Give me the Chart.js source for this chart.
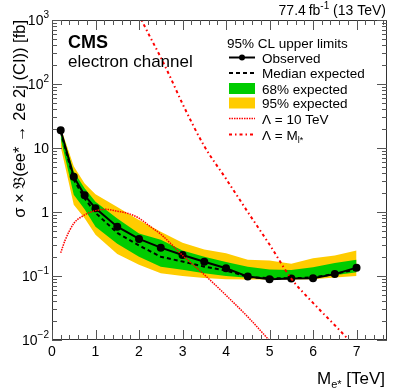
<!DOCTYPE html>
<html>
<head>
<meta charset="utf-8">
<script src="https://cdn.jsdelivr.net/npm/chart.js@4.4.0/dist/chart.umd.min.js"></script>
<style>
  html, body { margin: 0; padding: 0; background: #fff; }
</style>
</head>
<body>
<canvas id="chart" width="407" height="391"></canvas>
<script>
// excited electron mass points [TeV]
const massPoints = [0.2, 0.5, 0.75, 1, 1.5, 2, 2.5, 3, 3.5, 4, 4.5, 5, 5.5, 6, 6.5, 7];
const observed  = [19, 3.56, 1.82, 1.14, 0.59, 0.38, 0.277, 0.213, 0.167, 0.132, 0.098, 0.089, 0.091, 0.092, 0.107, 0.135];
const expMedian = [18, 3.2, 1.63, 0.97, 0.47, 0.30, 0.20, 0.168, 0.14, 0.122, 0.097, 0.092, 0.092, 0.095, 0.108, 0.127];
const exp68Hi   = [20, 4.3, 2.36, 1.45, 0.79, 0.46, 0.37, 0.25, 0.2, 0.165, 0.14, 0.126, 0.124, 0.137, 0.16, 0.18];
const exp68Lo   = [14, 1.86, 1.1, 0.59, 0.32, 0.2, 0.14, 0.125, 0.11, 0.1, 0.094, 0.093, 0.092, 0.094, 0.103, 0.114];
const exp95Hi   = [21, 5.2, 2.8, 1.9, 1.2, 0.75, 0.49, 0.33, 0.26, 0.226, 0.18, 0.175, 0.155, 0.19, 0.21, 0.25];
const exp95Lo   = [10.5, 1.3, 0.8, 0.44, 0.22, 0.15, 0.11, 0.1, 0.093, 0.089, 0.088, 0.088, 0.088, 0.089, 0.095, 0.1];

// signal theory curves
const lam10Mass = [0.2, 0.3, 0.5, 0.75, 1, 1.25, 1.5, 1.75, 2, 2.25, 2.5, 2.75, 3, 3.5, 4, 4.5, 5];
const lam10Xsec = [0.23, 0.36, 0.66, 0.9, 1.05, 1.1, 1.03, 0.95, 0.8, 0.6, 0.45, 0.31, 0.21, 0.105, 0.05, 0.023, 0.0098];
const lamMMass = [2.0, 2.25, 2.5, 2.75, 3, 3.5, 4, 4.5, 5, 5.5, 6, 6.5, 7];
const lamMXsec = [1200, 550, 260, 115, 49, 10.7, 3.3, 1.0, 0.31, 0.091, 0.038, 0.017, 0.0075];

// axis labels
const xTickLabels = ['0', '1', '2', '3', '4', '5', '6', '7'];
const yTickExp = [3, 2, 1, 0, -1, -2];

const GREEN = '#00cc00';
const YELLOW = '#ffcc00';
const RED = '#ff0000';

const pts = (xs, ys) => xs.map((x, i) => ({ x: x, y: ys[i] }));

// draws text pieces (with raised / lowered parts), returns width
function richText(ctx, parts, x, y, align) {
  let w = 0;
  parts.forEach(p => { ctx.font = p.font; w += ctx.measureText(p.t).width; });
  let cx = align === 'right' ? x - w : x;
  parts.forEach(p => {
    ctx.font = p.font;
    ctx.fillText(p.t, cx, y + (p.dy || 0));
    cx += ctx.measureText(p.t).width;
  });
  return w;
}

const decorations = {
  id: 'decorations',
  afterDraw(chart) {
    const { ctx, chartArea: a, scales: { x, y } } = chart;
    ctx.save();

    // frame
    ctx.strokeStyle = '#333';
    ctx.lineWidth = 1;
    ctx.strokeRect(a.left + 0.5, a.top + 0.5, a.right - a.left - 1, a.bottom - a.top - 1);

    // y ticks (inward, both sides)
    ctx.strokeStyle = '#555';
    ctx.beginPath();
    for (let d = -2; d <= 3; d++) {
      for (let k = 1; k <= 9; k++) {
        if (d === 3 && k > 1) break;
        const v = k * Math.pow(10, d);
        const py = Math.round(y.getPixelForValue(v)) + 0.5;
        const len = k === 1 ? 10 : 5;
        ctx.moveTo(a.left, py); ctx.lineTo(a.left + len, py);
        ctx.moveTo(a.right, py); ctx.lineTo(a.right - len, py);
      }
    }
    // x ticks
    for (let i = 0; i * 0.2 <= 7.7 + 1e-9; i++) {
      const px = Math.round(x.getPixelForValue(i * 0.2)) + 0.5;
      const len = i % 5 === 0 ? 10 : 5;
      ctx.moveTo(px, a.bottom); ctx.lineTo(px, a.bottom - len);
      ctx.moveTo(px, a.top); ctx.lineTo(px, a.top + len);
    }
    ctx.stroke();

    ctx.fillStyle = '#000';
    const F = 'Liberation Sans, Arial, sans-serif';

    // x tick labels
    ctx.font = '14px ' + F;
    ctx.textAlign = 'center';
    ctx.textBaseline = 'alphabetic';
    xTickLabels.forEach((t, i) => {
      ctx.fillText(t, x.getPixelForValue(i), 356);
    });

    // y tick labels
    ctx.textAlign = 'left';
    yTickExp.forEach(e => {
      const py = y.getPixelForValue(Math.pow(10, e)) + 5;
      let parts;
      if (e === 0) parts = [{ t: '1', font: '14px ' + F }];
      else if (e === 1) parts = [{ t: '10', font: '14px ' + F }];
      else parts = [{ t: '10', font: '14px ' + F }, { t: e < 0 ? '\u2212' + (-e) : String(e), font: '10px ' + F, dy: -7 }];
      richText(ctx, parts, 49, py, 'right');
    });

    // luminosity label
    richText(ctx, [
      { t: '77.4\u2009fb', font: '14px ' + F },
      { t: '-1', font: '10px ' + F, dy: -6 },
      { t: ' (13 TeV)', font: '14px ' + F }
    ], 386, 15, 'right');

    // CMS label
    ctx.font = 'bold 18px ' + F;
    ctx.fillText('CMS', 68, 48);
    ctx.font = '17px ' + F;
    ctx.fillText('electron channel', 68, 67);

    // x axis title
    richText(ctx, [
      { t: 'M', font: '17px ' + F },
      { t: 'e*', font: '11px ' + F, dy: 4 },
      { t: ' [TeV]', font: '17px ' + F }
    ], 385, 384, 'right');

    // y axis title
    ctx.save();
    ctx.translate(25, 20);
    ctx.rotate(-Math.PI / 2);
    ctx.font = '16.5px ' + F;
    ctx.textAlign = 'right';
    ctx.fillText('\u03c3 \u00d7 \ud835\udd05(ee* \u2192 2e 2j (CI)) [fb]', 0, 0);
    ctx.restore();

    // legend
    const lx0 = 229, lx1 = 255, tx = 262;
    ctx.textAlign = 'left';
    ctx.font = '13.5px ' + F;
    ctx.fillText('95% CL upper limits', 227, 48);
    const rows = [57.5, 73, 88.5, 103, 118.5, 134.5];
    const labels = ['Observed', 'Median expected', '68% expected', '95% expected'];
    labels.forEach((t, i) => ctx.fillText(t, tx, rows[i] + 5));
    richText(ctx, [{ t: '\u039b = 10 TeV', font: '13.5px ' + F }], tx, rows[4] + 5);
    richText(ctx, [
      { t: '\u039b = M', font: '13.5px ' + F },
      { t: 'l*', font: '9px ' + F, dy: 3 }
    ], tx, rows[5] + 5);

    ctx.strokeStyle = '#000';
    ctx.lineWidth = 2;
    ctx.beginPath(); ctx.moveTo(lx0, rows[0]); ctx.lineTo(lx1, rows[0]); ctx.stroke();
    ctx.beginPath(); ctx.arc((lx0 + lx1) / 2, rows[0], 3, 0, 2 * Math.PI); ctx.fill();
    ctx.setLineDash([4, 3]);
    ctx.beginPath(); ctx.moveTo(lx0, rows[1]); ctx.lineTo(lx1, rows[1]); ctx.stroke();
    ctx.setLineDash([]);
    ctx.fillStyle = GREEN; ctx.fillRect(lx0, rows[2] - 5.5, lx1 - lx0, 11);
    ctx.fillStyle = YELLOW; ctx.fillRect(lx0, rows[3] - 5.5, lx1 - lx0, 11);
    ctx.strokeStyle = RED;
    ctx.lineWidth = 1.5;
    ctx.setLineDash([1.5, 1]);
    ctx.beginPath(); ctx.moveTo(lx0, rows[4]); ctx.lineTo(lx1, rows[4]); ctx.stroke();
    ctx.lineWidth = 2;
    ctx.setLineDash([3, 3, 1.5, 3]);
    ctx.beginPath(); ctx.moveTo(lx0, rows[5]); ctx.lineTo(lx1, rows[5]); ctx.stroke();
    ctx.restore();
  }
};

new Chart(document.getElementById('chart'), {
  type: 'line',
  data: {
    datasets: [
      {
        label: 'Lambda = 10 TeV',
        data: pts(lam10Mass, lam10Xsec),
        borderColor: RED,
        borderWidth: 1.5,
        borderDash: [1.5, 1],
        pointRadius: 0,
        cubicInterpolationMode: 'monotone',
        fill: false
      },
      {
        label: 'Lambda = M',
        data: pts(lamMMass, lamMXsec),
        borderColor: RED,
        borderWidth: 2,
        borderDash: [3, 3, 1.5, 3],
        pointRadius: 0,
        cubicInterpolationMode: 'monotone',
        fill: false
      },
      {
        label: 'Observed',
        data: pts(massPoints, observed),
        borderColor: '#000',
        backgroundColor: '#000',
        borderWidth: 2,
        pointRadius: 3,
        fill: false
      },
      {
        label: 'Median expected',
        data: pts(massPoints, expMedian),
        borderColor: '#000',
        borderWidth: 2,
        borderDash: [4, 3],
        pointRadius: 0,
        fill: false
      },
      {
        label: '68% hi',
        data: pts(massPoints, exp68Hi),
        borderWidth: 0,
        pointRadius: 0,
        backgroundColor: GREEN,
        fill: '+1'
      },
      {
        label: '68% lo',
        data: pts(massPoints, exp68Lo),
        borderWidth: 0,
        pointRadius: 0,
        fill: false
      },
      {
        label: '95% hi',
        data: pts(massPoints, exp95Hi),
        borderWidth: 0,
        pointRadius: 0,
        backgroundColor: YELLOW,
        fill: '+1'
      },
      {
        label: '95% lo',
        data: pts(massPoints, exp95Lo),
        borderWidth: 0,
        pointRadius: 0,
        fill: false
      }
    ]
  },
  options: {
    responsive: false,
    animation: false,
    layout: { padding: { left: 0, top: 20, right: 20, bottom: 0 } },
    plugins: { legend: { display: false }, tooltip: { enabled: false } },
    scales: {
      x: {
        type: 'linear',
        min: 0,
        max: 7.7,
        grid: { display: false },
        border: { display: false },
        ticks: { display: false },
        afterFit: s => { s.height = 51; }
      },
      y: {
        type: 'logarithmic',
        min: 0.01,
        max: 1000,
        grid: { display: false },
        border: { display: false },
        ticks: { display: false },
        afterFit: s => { s.width = 52; }
      }
    }
  },
  plugins: [decorations]
});
</script>
</body>
</html>
